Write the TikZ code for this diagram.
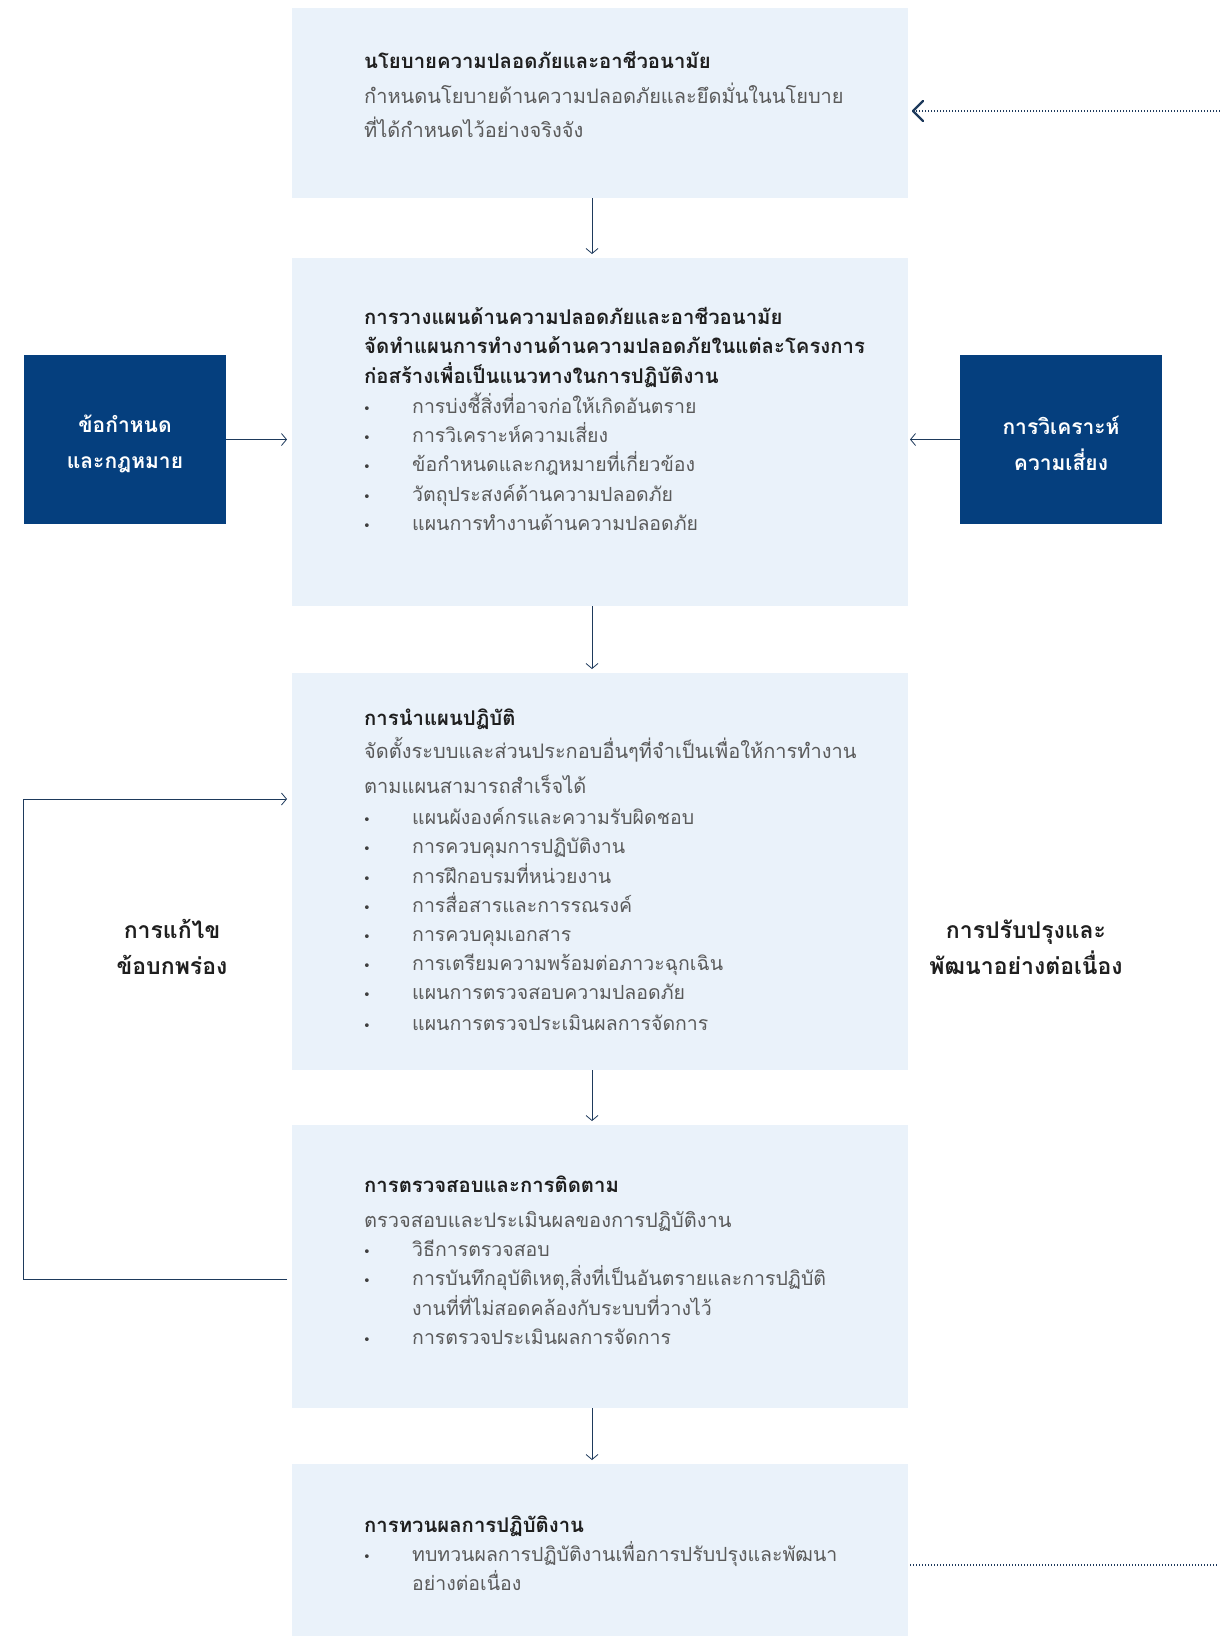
\documentclass[tikz,border=0pt]{standalone}
\usepackage{fontspec}
\newfontfamily\thaifont[Script=Thai]{Loma}
\newfontfamily\symfont{DejaVu Sans}
\usetikzlibrary{arrows.meta}

\definecolor{panel}{HTML}{EAF2FA}
\definecolor{navy}{HTML}{053F7E}
\definecolor{ink}{HTML}{1E3A5C}
\definecolor{headink}{HTML}{1F1F1F}
\definecolor{bodyink}{HTML}{5A5A5A}

\tikzset{
  panelbox/.style={fill=panel, draw=none, inner sep=0pt, outer sep=0pt,
    minimum width=616pt, anchor=north west},
  darkbox/.style={fill=navy, draw=none, inner sep=0pt, outer sep=0pt,
    minimum width=202pt, minimum height=169pt, anchor=north west},
  darklabel/.style={font=\thaifont\bfseries\fontsize{21}{36}\selectfont,
    text=white, align=center, inner sep=0pt},
  sidelabel/.style={font=\thaifont\bfseries\fontsize{23}{36}\selectfont,
    text=headink, align=center, inner sep=0pt},
  ttl/.style={font=\thaifont\bfseries\fontsize{20.3}{24}\selectfont,
    text=headink, inner sep=0pt, anchor=base west},
  desc/.style={font=\thaifont\fontsize{20}{26}\selectfont,
    text=bodyink, inner sep=0pt, anchor=base west},
  itemtext/.style={font=\thaifont\fontsize{19.5}{24}\selectfont,
    text=bodyink, inner sep=0pt, anchor=base west},
  bulletdot/.style={font=\symfont\fontsize{13}{14}\selectfont,
    text=bodyink!70!black, inner sep=0pt, anchor=base},
  arr/.style={draw=ink, line width=0.8pt,
    -{Straight Barb[length=5pt,width=12pt,line width=0.8pt]}},
  dotline/.style={draw=ink, line width=1.7pt, dash pattern=on 1.3pt off 1.7pt},
}

% one line of text at a given baseline
\newcommand\linetext[4]{\node[#1] (#2) at #3 {#4};}
% bullet point followed by its text
\newcommand\bulletline[3]{%
  \node[bulletdot] (#1d) at (367,#2) {•};
  \node[itemtext] (#1) at (412,#2) {#3};}

\begin{document}
\begin{tikzpicture}[x=1pt,y=-1pt]
\useasboundingbox (0,0) rectangle (1220,1636);
\fill[white] (0,0) rectangle (1220,1636);

% main column of panels
\node[panelbox, minimum height=190pt] (p1) at (292,8) {};
\node[panelbox, minimum height=348pt] (p2) at (292,258) {};
\node[panelbox, minimum height=397pt] (p3) at (292,673) {};
\node[panelbox, minimum height=283pt] (p4) at (292,1125) {};
\node[panelbox, minimum height=172pt] (p5) at (292,1464) {};

% side inputs
\node[darkbox] (law) at (24,355) {};
\node[darkbox] (risk) at (960,355) {};
\node[darklabel] (lawt) at ([yshift=-4pt]law.center) {ข้อกำหนด\\และกฎหมาย};
\node[darklabel] (riskt) at ([yshift=-4pt]risk.center) {การวิเคราะห์\\ความเสี่ยง};

% panel 1
\linetext{ttl}{t11}{(364,68)}{นโยบายความปลอดภัยและอาชีวอนามัย}
\linetext{desc}{t12}{(364,103)}{กำหนดนโยบายด้านความปลอดภัยและยึดมั่นในนโยบาย}
\linetext{desc}{t13}{(364,137)}{ที่ได้กำหนดไว้อย่างจริงจัง}

% panel 2
\linetext{ttl}{t21}{(364,324)}{การวางแผนด้านความปลอดภัยและอาชีวอนามัย}
\linetext{ttl}{t22}{(364,353)}{จัดทำแผนการทำงานด้านความปลอดภัยในแต่ละโครงการ}
\linetext{ttl}{t23}{(364,383)}{ก่อสร้างเพื่อเป็นแนวทางในการปฏิบัติงาน}
\bulletline{b21}{413}{การบ่งชี้สิ่งที่อาจก่อให้เกิดอันตราย}
\bulletline{b22}{442}{การวิเคราะห์ความเสี่ยง}
\bulletline{b23}{471}{ข้อกำหนดและกฎหมายที่เกี่ยวข้อง}
\bulletline{b24}{501}{วัตถุประสงค์ด้านความปลอดภัย}
\bulletline{b25}{530}{แผนการทำงานด้านความปลอดภัย}

% panel 3
\linetext{ttl}{t31}{(364,725)}{การนำแผนปฏิบัติ}
\linetext{desc}{t32}{(364,758)}{จัดตั้งระบบและส่วนประกอบอื่นๆที่จำเป็นเพื่อให้การทำงาน}
\linetext{desc}{t33}{(364,793)}{ตามแผนสามารถสำเร็จได้}
\bulletline{b31}{824}{แผนผังองค์กรและความรับผิดชอบ}
\bulletline{b32}{853}{การควบคุมการปฏิบัติงาน}
\bulletline{b33}{883}{การฝึกอบรมที่หน่วยงาน}
\bulletline{b34}{912}{การสื่อสารและการรณรงค์}
\bulletline{b35}{941}{การควบคุมเอกสาร}
\bulletline{b36}{970}{การเตรียมความพร้อมต่อภาวะฉุกเฉิน}
\bulletline{b37}{999}{แผนการตรวจสอบความปลอดภัย}
\bulletline{b38}{1030}{แผนการตรวจประเมินผลการจัดการ}

% panel 4
\linetext{ttl}{t41}{(364,1192)}{การตรวจสอบและการติดตาม}
\linetext{desc}{t42}{(364,1227)}{ตรวจสอบและประเมินผลของการปฏิบัติงาน}
\bulletline{b41}{1256}{วิธีการตรวจสอบ}
\bulletline{b42}{1285}{การบันทึกอุบัติเหตุ,สิ่งที่เป็นอันตรายและการปฏิบัติ}
\linetext{itemtext}{b42b}{(412,1315)}{งานที่ที่ไม่สอดคล้องกับระบบที่วางไว้}
\bulletline{b43}{1344}{การตรวจประเมินผลการจัดการ}

% panel 5
\linetext{ttl}{t51}{(364,1532)}{การทวนผลการปฏิบัติงาน}
\bulletline{b51}{1561}{ทบทวนผลการปฏิบัติงานเพื่อการปรับปรุงและพัฒนา}
\linetext{itemtext}{b51b}{(412,1590)}{อย่างต่อเนื่อง}

% loop labels
\node[sidelabel] (fix) at (172,947) {การแก้ไข\\ข้อบกพร่อง};
\node[sidelabel] (improve) at (1026,947) {การปรับปรุงและ\\พัฒนาอย่างต่อเนื่อง};

% flow between panels (the connector column sits a little left of centre)
\draw[arr, shorten >=4pt] ([xshift=-8pt]p1.south) -- ([xshift=-8pt]p2.north);
\draw[arr, shorten >=4pt] ([xshift=-8pt]p2.south) -- ([xshift=-8pt]p3.north);
\draw[arr, shorten >=4pt] ([xshift=-8pt]p3.south) -- ([xshift=-8pt]p4.north);
\draw[arr, shorten >=4pt] ([xshift=-8pt]p4.south) -- ([xshift=-8pt]p5.north);

% inputs into planning
\draw[arr, shorten >=5pt] (law.east) -- (law.east -| p2.west);
\draw[arr, shorten >=2pt] (risk.west) -- (risk.west -| p2.east);

% corrective loop on the left
\coordinate (fixa) at (287,1279);
\coordinate (fixb) at (287,799);
\draw[arr] (fixa) -| (23,799) -- (fixb);

% continual improvement loop on the right
\coordinate (topin) at (1220,111);
\coordinate (topend) at (913,111);
\coordinate (botstart) at (910,1565);
\coordinate (botend) at (1217,1565);
\draw[dotline] (topin) -- ([xshift=2pt]topend);
\draw[draw=ink, line width=2.2pt, line cap=round, line join=round]
  (923,101) -- (topend) -- (923,121);
\draw[dotline] (botstart) -- (botend);
\end{tikzpicture}
\end{document}
